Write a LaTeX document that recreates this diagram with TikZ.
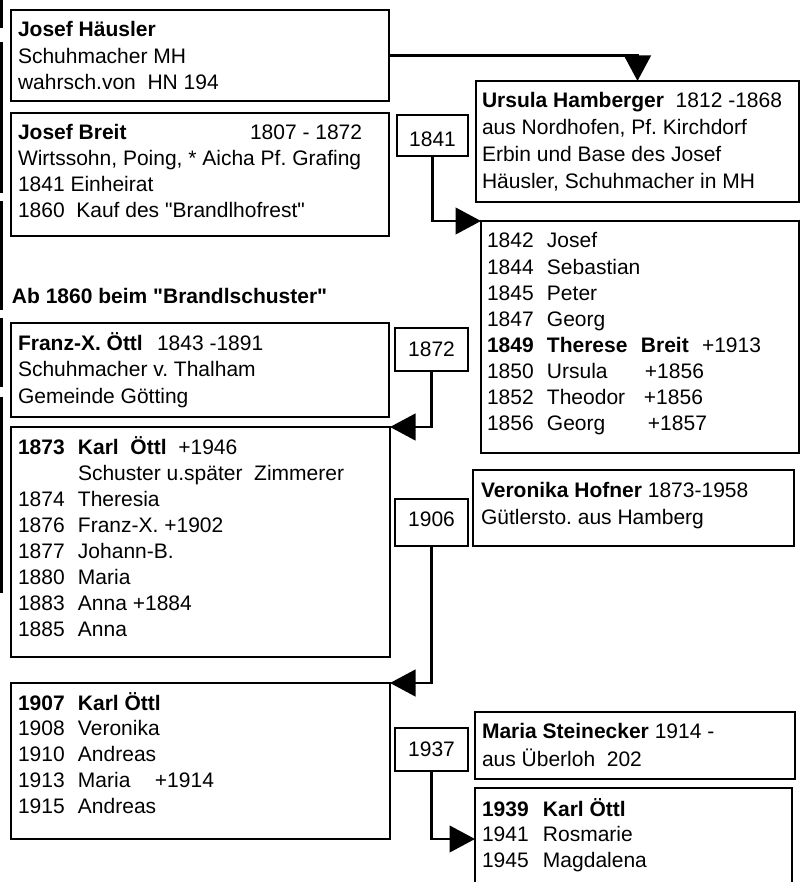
\documentclass[tikz,border=0pt]{standalone}
\usepackage{fontspec}
\setmainfont{Liberation Sans}
\usetikzlibrary{arrows.meta}
\newcommand\fsz[1]{\fontsize{21}{#1}\selectfont}
\newcommand\dq{\textquotedbl}
\tikzset{
  box/.style={draw, line width=2.9pt, rectangle, anchor=north west, inner sep=0pt, outer sep=0pt},
  lbl/.style={draw, line width=2.9pt, rectangle, inner sep=0pt, outer sep=0pt, font=\fsz{26}},
  txt/.style={anchor=base west, inner sep=0pt, outer sep=0pt},
  conn/.style={line width=2.9pt, -{Triangle[length=25.5pt,width=26.5pt]}},
  edgeline/.style={line width=3pt},
}
\begin{document}
\frenchspacing
\begin{tikzpicture}[x=1pt,y=-1pt]
\useasboundingbox (0,0) rectangle (804,882);

% left edge fragments
\foreach \a/\b in {0/28,42/193,201/310,318/387,397/593}
  \draw[edgeline] (1.5,\a) -- (1.5,\b);

% boxes
\node[box, minimum width=378pt, minimum height=91pt]  (haeusler) at (11,10) {};
\node[box, minimum width=378pt, minimum height=123pt] (breit)    at (11,113) {};
\node[box, minimum width=323pt, minimum height=121pt] (ursula)   at (476,81) {};
\node[box, minimum width=318pt, minimum height=232pt] (kids)     at (481,221) {};
\node[box, minimum width=378pt, minimum height=94pt]  (franz)    at (11,323) {};
\node[box, minimum width=379pt, minimum height=230pt] (karl1)    at (11,427) {};
\node[box, minimum width=321pt, minimum height=76pt]  (vero)     at (473,470) {};
\node[box, minimum width=379pt, minimum height=156pt] (karl2)    at (11,683) {};
\node[box, minimum width=320pt, minimum height=67pt]  (maria)    at (475,712) {};
\node[box, minimum width=317pt, minimum height=102pt] (karl3)    at (475,788) {};

% year labels
\node[lbl, minimum width=71pt, minimum height=41pt, text height=23pt, text depth=0pt] (l1841) at (432.5,135.5) {1841};
\node[lbl, minimum width=73pt, minimum height=43pt] (l1872) at (431.5,349.5) {1872};
\node[lbl, minimum width=73pt, minimum height=47pt, text height=15pt, text depth=8pt] (l1906) at (431.5,522.5) {1906};
\node[lbl, minimum width=73pt, minimum height=43pt] (l1937) at (431.5,749.5) {1937};

% texts
\node[txt, font=\fsz{26.5}] (haeusler-t) at (18,37) {\begin{tabular}[t]{@{}l@{}}
\textbf{Josef Häusler}\\
Schuhmacher MH\\
wahrsch.von\ \ HN 194
\end{tabular}};

\node[txt, font=\fsz{26}] (breit-t) at (18,140) {\begin{tabular}[t]{@{}l@{}}
\makebox[232pt][l]{\textbf{Josef Breit}}1807 - 1872\\
Wirtssohn, Poing, * Aicha Pf. Grafing\\
1841 Einheirat\\
1860\ \ Kauf des \dq Brandlhofrest\dq
\end{tabular}};

\node[txt, font=\fsz{26}] (head) at (12,303) {\textbf{Ab 1860 beim \dq Brandlschuster\dq}};

\node[txt, font=\fsz{26.7}] (ursula-t) at (482,108) {\begin{tabular}[t]{@{}l@{}}
\textbf{Ursula Hamberger}\ \ 1812 -1868\\
aus Nordhofen, Pf. Kirchdorf\\
Erbin und Base des Josef\\
Häusler, Schuhmacher in MH
\end{tabular}};

\node[txt, font=\fsz{26}] (kids-t) at (487,248) {\begin{tabular}[t]{@{}p{60pt}@{}l@{}}
1842 & Josef\\
1844 & Sebastian\\
1845 & Peter\\
1847 & Georg\\
\textbf{1849} & \makebox[94pt][l]{\textbf{Therese}}\makebox[61pt][l]{\textbf{Breit}}+1913\\
1850 & \makebox[98pt][l]{Ursula}+1856\\
1852 & \makebox[97pt][l]{Theodor}+1856\\
1856 & \makebox[101pt][l]{Georg}+1857
\end{tabular}};

\node[txt, font=\fsz{26.5}] (franz-t) at (18,350) {\begin{tabular}[t]{@{}l@{}}
\makebox[139pt][l]{\textbf{Franz-X. Öttl}}1843 -1891\\
Schuhmacher v. Thalham\\
Gemeinde Götting
\end{tabular}};

\node[txt, font=\fsz{26}] (karl1-t) at (18,454) {\begin{tabular}[t]{@{}p{60pt}@{}l@{}}
\textbf{1873} & \textbf{Karl\ \ Öttl}\ \ +1946\\
 & Schuster u.später\ \ Zimmerer\\
1874 & Theresia\\
1876 & Franz-X. +1902\\
1877 & Johann-B.\\
1880 & Maria\\
1883 & Anna +1884\\
1885 & Anna
\end{tabular}};

\node[txt, font=\fsz{27}] (vero-t) at (481,497) {\begin{tabular}[t]{@{}l@{}}
\textbf{Veronika Hofner} 1873-1958\\
Gütlersto. aus Hamberg
\end{tabular}};

\node[txt, font=\fsz{25.8}] (karl2-t) at (18,710) {\begin{tabular}[t]{@{}p{60pt}@{}l@{}}
\textbf{1907} & \textbf{Karl Öttl}\\
1908 & Veronika\\
1910 & Andreas\\
1913 & \makebox[77pt][l]{Maria}+1914\\
1915 & Andreas
\end{tabular}};

\node[txt, font=\fsz{28}] (maria-t) at (482,738) {\begin{tabular}[t]{@{}l@{}}
\textbf{Maria Steinecker} 1914 -\\
aus Überloh\ \ 202
\end{tabular}};

\node[txt, font=\fsz{25.5}] (karl3-t) at (482,816) {\begin{tabular}[t]{@{}p{61pt}@{}l@{}}
\textbf{1939} & \textbf{Karl Öttl}\\
1941 & Rosmarie\\
1945 & Magdalena
\end{tabular}};

% connectors
\draw[conn] (haeusler.east) -| (ursula.north);
\draw[conn] (l1841.south) |- (kids.north west);
\draw[conn] (l1872.south) |- (karl1.north east);
\draw[conn] (l1906.south) |- (karl2.north east);
\draw[conn] (l1937.south) |- (karl3.west);
\end{tikzpicture}
\end{document}
